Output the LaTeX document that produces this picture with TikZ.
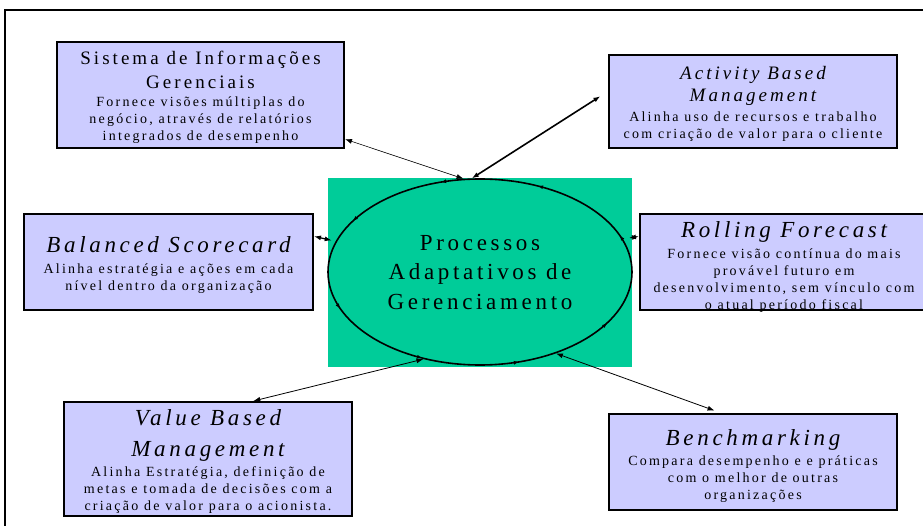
\documentclass[tikz,border=0pt]{standalone}
\usepackage{fontspec}
\setmainfont{Liberation Serif}[LetterSpace=16]
\usetikzlibrary{arrows.meta,shapes.geometric,decorations.markings}
\definecolor{lavender}{RGB}{204,204,255}
\definecolor{seagreen}{RGB}{0,204,153}
\newcommand{\ttl}{\fontsize{19}{24}\selectfont}
\newcommand{\bigttl}{\fontsize{23}{31}\selectfont\itshape}
\newcommand{\bdy}{\fontsize{14}{17}\selectfont}
\begin{document}
\begin{tikzpicture}[x=1pt,y=-1pt,
    box/.style={draw,line width=2pt,fill=lavender,inner sep=0pt},
    txt/.style={anchor=north,align=center,inner sep=0pt,font=\bdy},
    link/.style={{Latex[length=7pt,width=5pt]}-{Latex[length=7pt,width=5pt]}},
    loop/.style={postaction={decorate,decoration={markings,
        mark=between positions 0.05 and 1 step 0.125 with {\arrow{Latex[length=5pt,width=4pt]}}}}}]
    \useasboundingbox (0,0) rectangle (923,526);
    \draw[line width=2pt] (5,526) -- (5,10) -- (923,10);

    \fill[seagreen] (328,178) rectangle (632,367);
    \node[ellipse,draw,line width=1.6pt,minimum width=304pt,minimum height=186pt,inner sep=0pt,loop]
        (proc) at (480,272) {};
    \node[align=center,font=\fontsize{23}{29.5}\selectfont] (proctxt) at (480,272.5)
        {Processos\\Adaptativos de\\Gerenciamento};

    \node[box,minimum width=287pt,minimum height=106pt] (sig) at (200.5,95) {};
    \node[txt,yshift=-10pt] (sigtxt) at (sig.north)
        {\ttl Sistema de Informações\\[7pt] \ttl Gerenciais\\[1pt]
         Fornece visões múltiplas do\\negócio, através de relatórios\\integrados de desempenho};

    \node[box,minimum width=288pt,minimum height=93pt] (abm) at (753,101.5) {};
    \node[txt,yshift=-12pt] (abmtxt) at (abm.north)
        {\ttl\itshape Activity Based\\[5pt] \ttl\itshape Management\\[3pt]
         Alinha uso de recursos e trabalho\\com criação de valor para o cliente};

    \node[box,minimum width=289pt,minimum height=96pt] (bsc) at (168.5,262) {};
    \node[txt,yshift=-23pt] (bsctxt) at (bsc.north)
        {\bigttl Balanced Scorecard\\[4pt]
         Alinha estratégia e ações em cada\\nível dentro da organização};

    \node[box,minimum width=288pt,minimum height=96pt] (rf) at (784,262) {};
    \node[txt,yshift=-8pt] (rftxt) at (rf.north)
        {\bigttl Rolling Forecast\\[4pt]
         Fornece visão contínua do mais\\provável futuro em\\
         desenvolvimento, sem vínculo com\\o atual período fiscal};

    \node[box,minimum width=288pt,minimum height=114pt] (vbm) at (208,459) {};
    \node[txt,yshift=-8pt] (vbmtxt) at (vbm.north)
        {\bigttl Value Based\\[14pt] \bigttl Management\\[3pt]
         Alinha Estratégia, definição de\\metas e tomada de decisões com a\\
         criação de valor para o acionista.};

    \node[box,minimum width=288pt,minimum height=96pt] (bm) at (753,462) {};
    \node[txt,yshift=-16pt] (bmtxt) at (bm.north)
        {\bigttl Benchmarking\\[3pt]
         Compara desempenho e e práticas\\com o melhor de outras\\organizações};

    \draw[link,line width=0.6pt] (sig.-17) -- (proc.100);
    \draw[link,line width=1.6pt,shorten <=9pt] (abm.176) -- (proc.95);
    \draw[link,line width=1.3pt,shorten >=4pt] (bsc.10) -- (proc.168);
    \draw[link,line width=1.3pt,shorten >=6pt] (rf.170) -- (proc.13);
    \draw[link,line width=0.8pt] (vbm.52) -- (proc.237);
    \draw[link,line width=0.8pt,shorten <=7pt] (bm.123) -- (proc.-47.5);
\end{tikzpicture}
\end{document}
